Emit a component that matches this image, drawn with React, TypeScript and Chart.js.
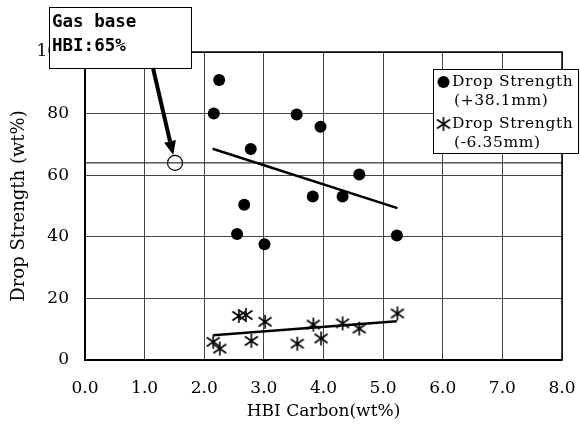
import React, { useEffect, useRef } from "react";
import { Chart, registerables } from "chart.js";
Chart.register(...registerables);

// ---- data ----
const xTickValues = [0, 1, 2, 3, 4, 5, 6, 7, 8];
const yTickValues = [0, 20, 40, 60, 80, 100];

const coarseX = [2.16, 2.25, 2.78, 2.67, 2.55, 3.01, 3.55, 3.95, 3.82, 4.32, 4.6, 5.23];
const coarseY = [80.0, 90.9, 68.5, 50.4, 40.9, 37.6, 79.7, 75.7, 53.1, 53.1, 60.2, 40.4];

const fineX = [2.15, 2.26, 2.58, 2.7, 2.79, 3.02, 3.56, 3.83, 3.96, 4.32, 4.6, 5.24];
const fineY = [5.9, 3.7, 14.3, 14.6, 6.2, 12.4, 5.3, 11.5, 7.0, 11.9, 10.2, 15.1];

const coarseTrendX = [2.14, 5.24];
const coarseTrendY = [68.6, 49.3];
const fineTrendX = [2.15, 5.23];
const fineTrendY = [8.0, 12.6];

const gasX = [1.51];
const gasY = [64];
const gasLineX = [0, 8];
const gasLineY = [64, 64];

const legendLabels = [["Drop Strength", "(+38.1mm)"], ["Drop Strength", "(-6.35mm)"]];
const noteLines = ["Gas base", "HBI:65%"];
const xTitle = "HBI Carbon(wt%)";
const yTitle = "Drop Strength (wt%)";

const zip = (xs: number[], ys: number[]) => xs.map((x, i) => ({ x, y: ys[i] }));

function makeAsterisk(): HTMLCanvasElement {
  const c = document.createElement("canvas");
  c.width = 16;
  c.height = 16;
  const g = c.getContext("2d")!;
  g.strokeStyle = "#000";
  g.lineWidth = 1.6;
  g.beginPath();
  g.moveTo(8, 1);
  g.lineTo(8, 15);
  g.moveTo(1.5, 3.5);
  g.lineTo(14.5, 12.5);
  g.moveTo(1.5, 12.5);
  g.lineTo(14.5, 3.5);
  g.stroke();
  return c;
}

const serif = "'DejaVu Serif', serif";

export default function App() {
  const ref = useRef<HTMLCanvasElement | null>(null);
  useEffect(() => {
    document.body.style.margin = "0";
    const canvas = ref.current!;
    const asterisk = makeAsterisk();

    const overlay = {
      id: "overlay",
      afterDraw(chart: any) {
        const ctx = chart.ctx as CanvasRenderingContext2D;
        const a = chart.chartArea;
        const xs = chart.scales.x;
        const ys = chart.scales.y;
        ctx.save();
        // frame
        ctx.strokeStyle = "#000";
        ctx.lineWidth = 1.5;
        ctx.strokeRect(a.left, a.top, a.right - a.left, a.bottom - a.top);
        ctx.lineWidth = 2;
        ctx.beginPath();
        ctx.moveTo(a.left, a.top);
        ctx.lineTo(a.left, a.bottom);
        ctx.lineTo(a.right, a.bottom);
        ctx.stroke();

        // annotation box
        const bx = 49, by = 7, bw = 142, bh = 61;
        ctx.fillStyle = "#fff";
        ctx.fillRect(bx, by, bw, bh);
        ctx.lineWidth = 1;
        ctx.strokeRect(bx + 0.5, by + 0.5, bw, bh);
        ctx.fillStyle = "#000";
        ctx.font = "bold 17.5px 'DejaVu Sans Mono', monospace";
        ctx.textBaseline = "alphabetic";
        ctx.textAlign = "left";
        ctx.fillText(noteLines[0], 52, 27);
        ctx.fillText(noteLines[1], 52, 51);

        // arrow to gas point
        const px = xs.getPixelForValue(gasX[0]);
        const py = ys.getPixelForValue(gasY[0]);
        const sx = 153, sy = by + bh;
        const dx = px - sx, dy = py - sy;
        const len = Math.hypot(dx, dy);
        const ux = dx / len, uy = dy / len;
        const tx = px - ux * 8, ty = py - uy * 8;
        const head = 14, hw = 6;
        const hx = tx - ux * head, hy = ty - uy * head;
        ctx.lineWidth = 4;
        ctx.beginPath();
        ctx.moveTo(sx, sy);
        ctx.lineTo(hx, hy);
        ctx.stroke();
        ctx.beginPath();
        ctx.moveTo(tx, ty);
        ctx.lineTo(hx - uy * hw, hy + ux * hw);
        ctx.lineTo(hx + uy * hw, hy - ux * hw);
        ctx.closePath();
        ctx.fill();

        // legend
        const lx = 433, ly = 69, lw = 146, lh = 84;
        ctx.fillStyle = "#fff";
        ctx.fillRect(lx, ly, lw, lh);
        ctx.lineWidth = 1;
        ctx.strokeStyle = "#000";
        ctx.strokeRect(lx + 0.5, ly + 0.5, lw - 1, lh);
        ctx.fillStyle = "#000";
        ctx.beginPath();
        ctx.arc(443.5, 82, 6, 0, Math.PI * 2);
        ctx.fill();
        ctx.drawImage(asterisk, 443.5 - 8, 124 - 8);
        ctx.font = "15.5px " + serif;
        (ctx as any).letterSpacing = "0.6px";
        ctx.textBaseline = "middle";
        ctx.fillText(legendLabels[0][0], 452, 82);
        ctx.fillText(legendLabels[0][1], 454, 101);
        ctx.fillText(legendLabels[1][0], 452, 124);
        ctx.fillText(legendLabels[1][1], 454, 143);
        ctx.restore();
      },
    };

    const chart = new Chart(canvas, {
      type: "scatter",
      data: {
        datasets: [
          {
            label: "gas line",
            data: zip(gasLineX, gasLineY),
            showLine: true,
            borderColor: "#000",
            borderWidth: 1,
            pointRadius: 0,
          },
          {
            label: "coarse trend",
            data: zip(coarseTrendX, coarseTrendY),
            showLine: true,
            borderColor: "#000",
            borderWidth: 2.5,
            pointRadius: 0,
          },
          {
            label: "fine trend",
            data: zip(fineTrendX, fineTrendY),
            showLine: true,
            borderColor: "#000",
            borderWidth: 2.5,
            pointRadius: 0,
          },
          {
            label: "Drop Strength (+38.1mm)",
            data: zip(coarseX, coarseY),
            pointStyle: "circle",
            pointRadius: 6,
            backgroundColor: "#000",
            borderColor: "#000",
            borderWidth: 0,
          },
          {
            label: "Drop Strength (-6.35mm)",
            data: zip(fineX, fineY),
            pointStyle: asterisk as any,
          },
          {
            label: "Gas base",
            data: zip(gasX, gasY),
            pointStyle: "circle",
            pointRadius: 7.5,
            backgroundColor: "#fff",
            borderColor: "#000",
            borderWidth: 1.2,
          },
        ],
      },
      options: {
        responsive: false,
        animation: false,
        devicePixelRatio: 1,
        layout: { padding: { left: 0, right: 18, top: 52, bottom: 0 } },
        plugins: { legend: { display: false }, tooltip: { enabled: false } },
        scales: {
          x: {
            type: "linear",
            min: 0,
            max: 8,
            afterBuildTicks: (s: any) => {
              s.ticks = xTickValues.map((v) => ({ value: v }));
            },
            afterFit: (s: any) => {
              s.height = 70;
              s.paddingLeft = 0;
              s.paddingRight = 0;
            },
            ticks: {
              color: "#000",
              font: { family: serif, size: 17 },
              padding: 18,
              callback: (v: any) => Number(v).toFixed(1),
            },
            grid: { color: "#444", lineWidth: 1, drawTicks: false },
            border: { display: false },
            title: {
              display: true,
              text: xTitle,
              color: "#000",
              font: { family: serif, size: 17 },
              padding: { top: 0, bottom: 8 },
            },
          },
          y: {
            type: "linear",
            min: 0,
            max: 100,
            afterBuildTicks: (s: any) => {
              s.ticks = yTickValues.map((v) => ({ value: v }));
            },
            afterFit: (s: any) => {
              s.width = 85;
              s.paddingTop = 0;
              s.paddingBottom = 0;
            },
            ticks: {
              color: "#000",
              font: { family: serif, size: 17 },
              padding: 16,
            },
            grid: { color: "#444", lineWidth: 1, drawTicks: false },
            border: { display: false },
            title: {
              display: true,
              text: yTitle,
              color: "#000",
              font: { family: serif, size: 18 },
              padding: { top: 9, bottom: 0 },
            },
          },
        },
      },
      plugins: [overlay],
    });
    return () => chart.destroy();
  }, []);
  return (
    <div style={{ width: 580, height: 430, background: "#fff" }}>
      <canvas ref={ref} width={580} height={430} style={{ width: 580, height: 430, display: "block" }} />
    </div>
  );
}
